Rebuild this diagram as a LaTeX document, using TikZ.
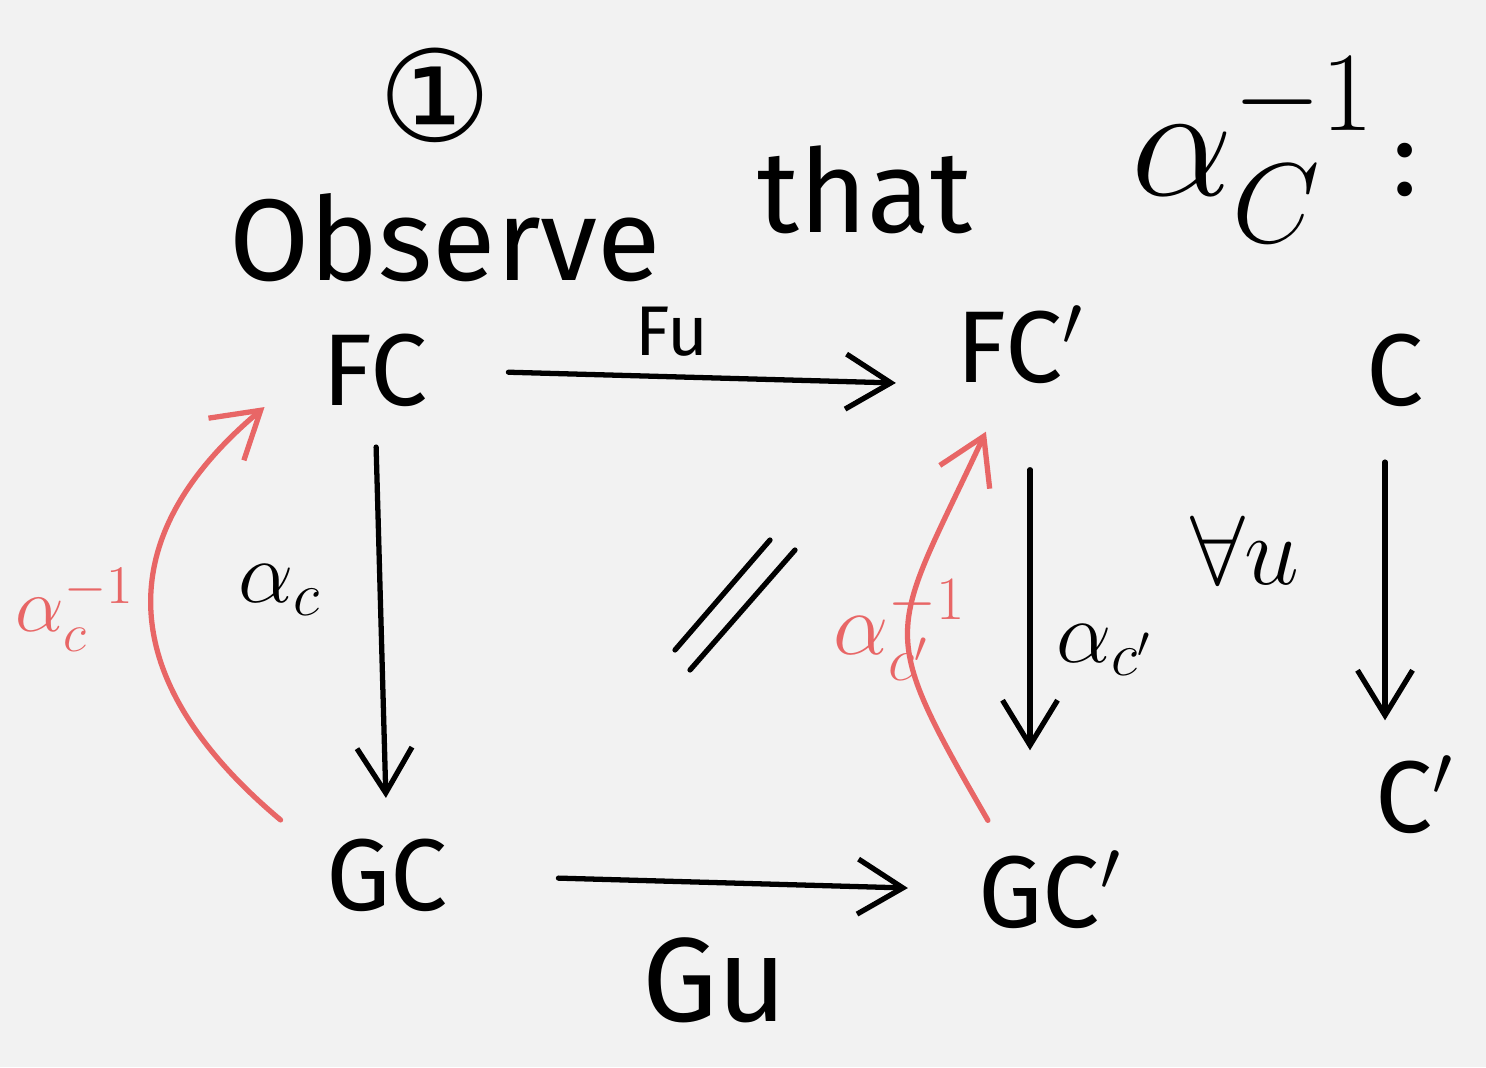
\documentclass[tikz,border=0pt]{standalone}
\usepackage{fix-cm}
\usepackage{amsmath,amssymb}
\usepackage{fontspec}
\setmainfont{Fira Sans}
\newfontfamily\symbolfont{DejaVu Sans}
\usetikzlibrary{arrows.meta,positioning,calc}
\definecolor{paper}{RGB}{242,242,242}
\definecolor{inkred}{RGB}{232,102,102}
\tikzset{
  obj/.style={inner sep=0pt, font=\fontsize{29}{29}\selectfont},
  hand/.style={inner sep=0pt, font=\fontsize{33}{33}\selectfont},
  lbl/.style={inner sep=0pt, font=\fontsize{25}{25}\selectfont},
  mor/.style={line width=1.5pt, line cap=round, -{Straight Barb[length=0.45cm,width=0.55cm]}},
  inv/.style={mor, inkred},
}

\begin{document}
\begin{tikzpicture}[x=0.01cm,y=-0.01cm]
\fill[paper] (0,0) rectangle (1486,1067);
\useasboundingbox (0,0) rectangle (1486,1067);

% heading
\node[hand, font=\symbolfont\fontsize{36}{36}\selectfont] (num) at (435,95) {①};
\node[hand] (obs) at (445,238) {Observe};
\node[hand] (that) at (865,190) {that};
\node[hand, font=\fontsize{46}{46}\selectfont] (alc) at (1275,150) {$\alpha_C^{-1}$\fontsize{30}{30}\selectfont\,:};

% the square
\node[obj] (FC) at (375,370) {FC};
\node[obj] (FCp) at (1020,345) {FC$'$};
\node[obj] (GC) at (387,875) {GC};
\node[obj] (GCp) at (1050,890) {GC$'$};
\node[obj] (C) at (1395,370) {C};
\node[obj] (Cp) at (1415,795) {C$'$};

\draw[mor, shorten <=0.8cm, shorten >=0.6cm] (FC.east) -- (FCp.south west);
\draw[mor, shorten <=1.1cm, shorten >=0.7cm] (GC.east) -- (GCp.west);
\draw[mor, shorten <=0.4cm, shorten >=0.4cm] (FC.south) -- (GC.north);
\draw[mor, shorten <=0.85cm, shorten >=1cm] ([xshift=0.1cm]FCp.south) -- ([xshift=0.1cm]FCp.south |- GCp.north);
\draw[mor, shorten <=0.55cm, shorten >=0.35cm] ([xshift=-0.1cm]C.south) -- ([xshift=-0.1cm]C.south |- Cp.north);

\node[lbl, font=\fontsize{20}{20}\selectfont] (Fu) at (672,332) {Fu};
\node[lbl, font=\fontsize{34}{34}\selectfont] (Gu) at (715,980) {Gu};
\node[lbl] (ac) at (280,590) {$\alpha_c$};
\node[lbl] (acp) at (1105,650) {$\alpha_{c'}$};
\node[lbl, font=\fontsize{28}{28}\selectfont] (all) at (1245,550) {$\forall u$};

% equals sign
\draw[line width=1.5pt, line cap=round] (675,650) -- (770,540);
\draw[line width=1.5pt, line cap=round] (690,670) -- (795,550);

% inverses
\draw[inv] ([xshift=-0.45cm,yshift=0.18cm]GC.north west) to[out=140,in=-140,looseness=1.3] ([xshift=-0.57cm]FC.south west);
\draw[inv] ([xshift=0.1cm,yshift=0.3cm]GCp.north west) to[out=120,in=-115,looseness=1.5] ([xshift=0.3cm,yshift=-0.47cm]FCp.south west);
\node[lbl, text=inkred, font=\fontsize{22}{22}\selectfont] (aci) at (75,610) {$\alpha_c^{-1}$};
\node[lbl, text=inkred] (acpi) at (900,630) {$\alpha_{c'}^{-1}$};
\end{tikzpicture}
\end{document}
